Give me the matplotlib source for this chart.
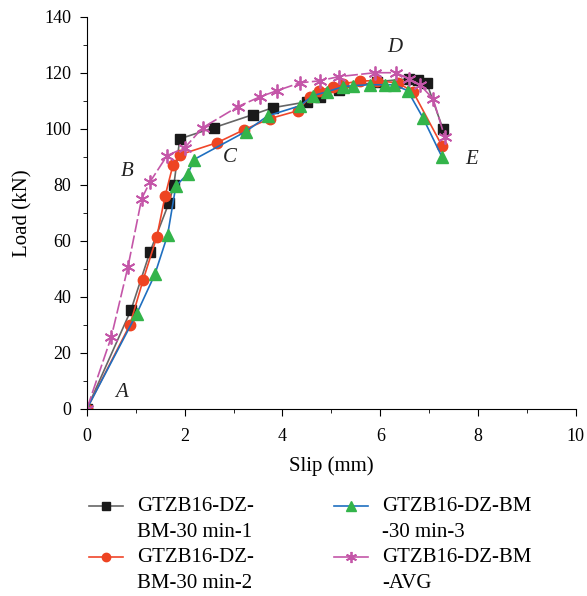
import matplotlib.pyplot as plt
from matplotlib.ticker import MultipleLocator
from matplotlib.legend_handler import HandlerLine2D

plt.rcParams['font.family'] = ['Liberation Serif', 'DejaVu Serif']

# specimen 1 (black squares)
slip_1 = [0, 0.90, 1.29, 1.68, 1.78, 1.90, 2.60, 3.39, 3.80, 4.50, 4.76, 5.15, 5.93, 6.58, 6.77, 6.95, 7.28]
load_1 = [0, 35.2, 56.0, 73.6, 80.0, 96.4, 100.4, 105.0, 107.5, 109.6, 111.4, 114.0, 116.8, 117.8, 117.5, 116.4, 100.0]

# specimen 2 (red circles)
slip_2 = [0, 0.88, 1.15, 1.43, 1.60, 1.76, 1.90, 2.66, 3.21, 3.74, 4.31, 4.56, 4.74, 5.03, 5.24, 5.58, 5.93, 6.36, 6.67, 7.26]
load_2 = [0, 30.0, 46.0, 61.4, 76.0, 87.0, 90.7, 95.0, 99.6, 103.6, 106.4, 111.4, 113.6, 115.0, 116.0, 117.1, 117.1, 116.4, 113.2, 94.0]

# specimen 3 (green triangles)
slip_3 = [0, 1.02, 1.39, 1.65, 1.82, 2.07, 2.19, 3.25, 3.70, 4.36, 4.62, 4.91, 5.24, 5.44, 5.79, 6.09, 6.28, 6.56, 6.87, 7.26]
load_3 = [0, 34.0, 48.0, 62.0, 79.6, 84.0, 89.0, 99.0, 104.6, 108.2, 111.8, 113.2, 115.0, 115.4, 115.7, 115.7, 115.7, 113.6, 104.0, 90.0]

# average curve (magenta asterisks)
slip_avg = [0, 0.50, 0.84, 1.12, 1.29, 1.64, 2.00, 2.37, 3.09, 3.54, 3.89, 4.36, 4.76, 5.15, 5.89, 6.32, 6.58, 6.81, 7.08, 7.32]
load_avg = [0, 25.7, 50.7, 75.0, 81.0, 90.4, 93.2, 100.4, 107.9, 111.4, 113.6, 116.4, 117.1, 118.6, 120.0, 120.0, 117.9, 115.7, 110.7, 97.0]

stage_labels = ['A', 'B', 'C', 'D', 'E']
stage_x = [0.70, 0.82, 2.92, 6.30, 7.87]
stage_y = [5.7, 84.6, 89.6, 129.0, 89.0]


class FirstLineHandler(HandlerLine2D):
    # solid legend sample, level with the first text line
    def create_artists(self, legend, orig_handle, xdescent, ydescent, width, height, fontsize, trans):
        arts = super().create_artists(legend, orig_handle, xdescent, ydescent - 18.5,
                                      width, height, fontsize, trans)
        arts[0].set_linestyle('-')
        return arts


fig = plt.figure(figsize=(5.87, 5.96), dpi=100)
ax = fig.add_axes([0.148, 0.314, 0.833, 0.658])

ax.plot(slip_1, load_1, '-', color='#666666', lw=1.2, marker='s', ms=6.5,
        mfc='#1a1a1a', mec='#1a1a1a', label='GTZB16-DZ-\nBM-30 min-1')
ax.plot(slip_2, load_2, '-', color='#f0462a', lw=1.2, marker='o', ms=7.5,
        mfc='#ee4422', mec='#ee4422', label='GTZB16-DZ-\nBM-30 min-2')
ax.plot(slip_3, load_3, '-', color='#1f6fc0', lw=1.2, marker='^', ms=8.5,
        mfc='#33b44a', mec='#33b44a', label='GTZB16-DZ-BM\n-30 min-3')
ax.plot(slip_avg, load_avg, color='#c456a8', lw=1.2, linestyle=(0, (8, 2)),
        marker=(6, 2, 0), ms=10, mew=1.3, mec='#c456a8', label='GTZB16-DZ-BM\n-AVG')

for s, x, y in zip(stage_labels, stage_x, stage_y):
    ax.text(x, y, s, fontsize=15, style='italic', ha='center', va='center', color='#222222')

ax.set_xlim(0, 10)
ax.set_ylim(0, 140)
ax.xaxis.set_major_locator(MultipleLocator(2))
ax.xaxis.set_minor_locator(MultipleLocator(1))
ax.yaxis.set_major_locator(MultipleLocator(20))
ax.yaxis.set_minor_locator(MultipleLocator(10))
ax.spines['top'].set_visible(False)
ax.spines['right'].set_visible(False)
ax.tick_params(which='both', direction='out', labelsize=13, pad=6)
ax.tick_params(axis='x', which='both', pad=9)
ax.tick_params(which='major', length=5)
ax.tick_params(which='minor', length=3)

ax.set_xlabel('Slip (mm)', fontsize=15, labelpad=8)
ax.set_ylabel('Load (kN)', fontsize=15, labelpad=9)

leg = ax.legend(loc='upper left', bbox_to_anchor=(-0.034, -0.176), ncol=2, frameon=False,
                fontsize=15, handlelength=1.63, handletextpad=0.67, columnspacing=3.85,
                labelspacing=0.3, borderpad=0.4, markerscale=0.8,
                handler_map={plt.Line2D: FirstLineHandler()})
for t in leg.get_texts():
    t.set_linespacing(1.5)

fig.savefig('out.png', dpi=100)
